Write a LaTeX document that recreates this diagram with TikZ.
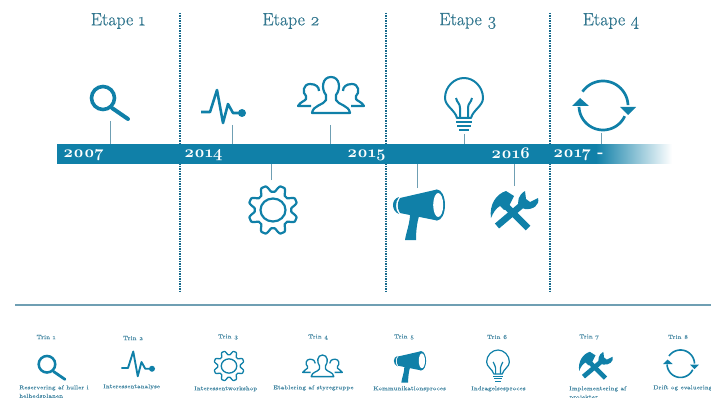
\documentclass[tikz,border=0pt]{standalone}
\usepackage{fontspec}
\setmainfont{Latin Modern Roman}[Numbers=OldStyle]
\newfontfamily\heavyfont{Latin Modern Roman}[Numbers=OldStyle,FakeBold=0.6]
\newfontfamily\softfont{Latin Modern Roman}[Numbers=OldStyle,FakeBold=0.25]
\definecolor{tl}{HTML}{1080A8}
\definecolor{tltext}{HTML}{33778F}
\definecolor{tldot}{HTML}{14688A}
\definecolor{tlline}{HTML}{6F9FB3}
\definecolor{tlsmall}{HTML}{4C8CA6}
\tikzset{
  x=1pt,y=-1pt,
  iw/.store in=\iw, iw=1,
  etape/.style={text=tltext,font=\fontsize{17.8}{18}\selectfont\heavyfont,inner sep=0pt},
  yearlbl/.style={text=white,font=\fontsize{16.5}{17}\selectfont\bfseries,inner sep=0pt,anchor=west},
  trinlbl/.style={text=tlsmall,font=\fontsize{6}{6}\selectfont\softfont,inner sep=0pt},
  caplbl/.style={text=tlsmall,font=\fontsize{5.85}{8.5}\selectfont\softfont,inner sep=0pt,anchor=north west,align=left},
  divider/.style={tldot,line width=2.2pt,dash pattern=on 1.5pt off 1pt},
  ticker/.style={tlline,line width=1pt},
  pics/mag/.style={code={
    \draw[tl,line width=\iw*3.6pt] (-7,-8) circle (11.5);
    \draw[tl,line width=\iw*4pt,line cap=round] (2,2) -- (18,13);
  }},
  pics/pulse/.style={code={
    \draw[tl,line width=\iw*2.6pt,line join=round] (-21,4) -- (-12,4) -- (-5,-18) -- (1,15) -- (6,-4) -- (11,5) -- (20,5);
    \fill[tl] (20,5) circle (4);
  }},
  pics/gear/.style={code={
    \draw[tl,line width=\iw*2.2pt] (0,0) ellipse (12.5 and 11.5);
    \draw[tl,line width=\iw*2.2pt,line join=round] plot[domain=0:360,samples=145,smooth] (\x:{21.5+3.2*max(-1,min(1,-1.5*cos(8*\x)))}) -- cycle;
  }},
  pics/people/.style={code={
    \begin{scope}[tl,line width=\iw*2.2pt,line join=round]
    \draw (-5,-2) .. controls (-10,-8) and (-9,-20) .. (0,-20) .. controls (9,-20) and (10,-8) .. (5,-2) -- (5,3) .. controls (7,8) and (18,8) .. (19,16) -- (-19,16) .. controls (-18,8) and (-7,8) .. (-5,3) -- cycle;
    \foreach \sd in {1,-1}{
      \draw (\sd*-12,-6) .. controls (\sd*-12,-10) and (\sd*-15,-13) .. (\sd*-21,-13) .. controls (\sd*-28,-13) and (\sd*-29,-4) .. (\sd*-25,-1) -- (\sd*-25,2) .. controls (\sd*-26,4) and (\sd*-31,5) .. (\sd*-33,9) -- (\sd*-20,9);
    }
    \end{scope}
  }},
  pics/bulb/.style={code={
    \begin{scope}[tl,line width=\iw*2pt,line join=round]
    \draw (-7,20) .. controls (-9,12) and (-19,8) .. (-19,0) .. controls (-19,-11) and (-10,-20) .. (0,-20) .. controls (10,-20) and (19,-11) .. (19,0) .. controls (19,8) and (9,12) .. (7,20) -- cycle;
    \draw (-4,20) -- (-4,10) .. controls (-4,5) and (-7,5) .. (-8,0);
    \draw (4,20) -- (4,10) .. controls (4,5) and (7,5) .. (8,0);
    \draw (-8,24) -- (8,24);
    \draw (-7,28) -- (7,28);
    \draw (-5,32) -- (5,32);
    \end{scope}
  }},
  pics/horn/.style={code={
    \fill[tl] (22,-10) ellipse (8 and 15.5);
    \fill[tl] (-15,-17) -- (22,-25.5) -- (22,5.5) -- (-15,-2) .. controls (-18,-7) and (-18,-12) .. (-15,-17) -- cycle;
    \fill[white] (23.2,-10) ellipse (5 and 12);
    \fill[tl] (-16,-18) .. controls (-24,-16) and (-24,-4) .. (-16,-1) .. controls (-20,-5) and (-20,-13) .. (-16,-18) -- cycle;
    \fill[tl] (-5,-1) .. controls (-5,8) and (-9,18) .. (-10,25) -- (1,25) .. controls (1,16) and (2,8) .. (4,1) -- cycle;
  }},
  pics/tools/.style={code={
    \draw[tl,line width=\iw*6.5pt] (14,17) -- (-9,-6);
    \fill[tl] (-23,7) .. controls (-25,-6) and (-18,-17) .. (-8,-20) -- (0,-15) -- (-6,-3) -- (-10,-1) -- (-14,-5) .. controls (-18,-3) and (-21,2) .. (-23,7) -- cycle;
    \draw[tl,line width=\iw*6.5pt] (-17,15) -- (9,-7);
    \fill[tl] (5,-4) .. controls (3,-9) and (4,-16) .. (11,-20) -- (12,-12) -- (16,-9) -- (24,-13) .. controls (26,-6) and (19,-1) .. (11,-2) -- cycle;
  }},
  pics/cycle/.style={code={
    \draw[tl,line width=\iw*2.7pt] plot[domain=215:358,samples=40] (\x:25);
    \draw[tl,line width=\iw*2.7pt] plot[domain=25:178,samples=40] (\x:24);
    \fill[tl] (-31,0) -- (-14,0) -- (-23,-8) -- cycle;
    \fill[tl] (17,1) -- (33,1) -- (25,9) -- cycle;
  }},
}
\begin{document}
\begin{tikzpicture}
\useasboundingbox (0,0) rectangle (711,398);
\clip (0,0) rectangle (711,398);
% dividers
\foreach \n/\xx in {d1/180,d2/386,d3/550}{
  \coordinate (\n t) at (\xx,13);
  \coordinate (\n b) at (\xx,292);
  \draw[divider] (\n t) -- (\n b);
}
% bar: solid part, then a stepped fade to white
\node[fill=tl,minimum width=540,minimum height=20,inner sep=0pt,outer sep=0pt] (bar) at (327,154) {};
\foreach \i in {0,...,75}{
  \pgfmathsetmacro{\pc}{100*(1-\i/76)}
  \pgfmathsetmacro{\xs}{596+\i}
  \fill[tl!\pc!white] (\xs,144) rectangle (672,164);
}
% titles
\node[etape] (e1) at (118,21) {Etape 1};
\node[etape] (e2) at (291,21) {Etape 2};
\node[etape] (e3) at (468,21) {Etape 3};
\node[etape] (e4) at (611,21) {Etape 4};
% years
\node[yearlbl] (y07) at (63,155) {2007};
\node[yearlbl] (y14) at (184,155) {2014};
\node[yearlbl] (y15) at (347,155) {2015};
\node[yearlbl] (y16) at (491,153) {2016};
\node[yearlbl] (y17) at (553,155) {2017 -};
% connectors
\foreach \n/\xx/\yy in {t1/110/121,t2/232/125,t4/330/125,t6/464/134,t8/601/133}{
  \coordinate (\n) at (\xx,\yy);
  \draw[ticker] (\n) -- (\n |- bar.north);
}
\foreach \n/\xx/\yy in {t3/271/180,t5/417/188,t7/514/186}{
  \coordinate (\n) at (\xx,\yy);
  \draw[ticker] (\n) -- (\n |- bar.south);
}
% big icons
\pic at (110,106) {mag};
\pic at (222,108) {pulse};
\pic at (273,210) {gear};
\pic at (331,97) {people};
\pic at (464,98) {bulb};
\pic at (415,215) {horn};
\pic at (514,211) {tools};
\pic at (603,106) {cycle};
% separator
\coordinate (sl) at (15,305);
\coordinate (sr) at (711,305);
\draw[tlline,line width=1.6pt] (sl) -- (sr);
% small row
\node[trinlbl] (n1) at (46,337) {Trin 1};
\node[trinlbl] (n2) at (133,338) {Trin 2};
\node[trinlbl] (n3) at (228,337) {Trin 3};
\node[trinlbl] (n4) at (318,337) {Trin 4};
\node[trinlbl] (n5) at (404,337) {Trin 5};
\node[trinlbl] (n6) at (497,337) {Trin 6};
\node[trinlbl] (n7) at (589,337) {Trin 7};
\node[trinlbl] (n8) at (678,337) {Trin 8};
\pic[iw=.7,scale=.72] at (52,370) {mag};
\pic[iw=.72,scale=.75] at (137,365) {pulse};
\pic[iw=.6,scale=.62] at (229,366) {gear};
\pic[iw=.6,scale=.6] at (322.5,367) {people};
\pic[iw=.6,scale=.62] at (407.5,367) {horn};
\pic[iw=.6,scale=.6] at (498,362) {bulb};
\pic[iw=.72,scale=.71] at (595.5,366) {tools};
\pic[iw=.6,scale=.56] at (680.5,364) {cycle};
\node[caplbl] (c1) at (19,385) {Reservering af huller i\\helhedsplanen};
\node[caplbl] (c2) at (103,384) {Interessentanalyse};
\node[caplbl] (c3) at (194,386) {Interessentworkshop};
\node[caplbl] (c4) at (273,385) {Etablering af styregruppe};
\node[caplbl] (c5) at (373,386) {Kommunikationsproces};
\node[caplbl] (c6) at (471,386) {Indragelsesproces};
\node[caplbl] (c7) at (569,386) {Implementering af\\projekter};
\node[caplbl] (c8) at (653,385) {Drift og evaluering};
\end{tikzpicture}
\end{document}
